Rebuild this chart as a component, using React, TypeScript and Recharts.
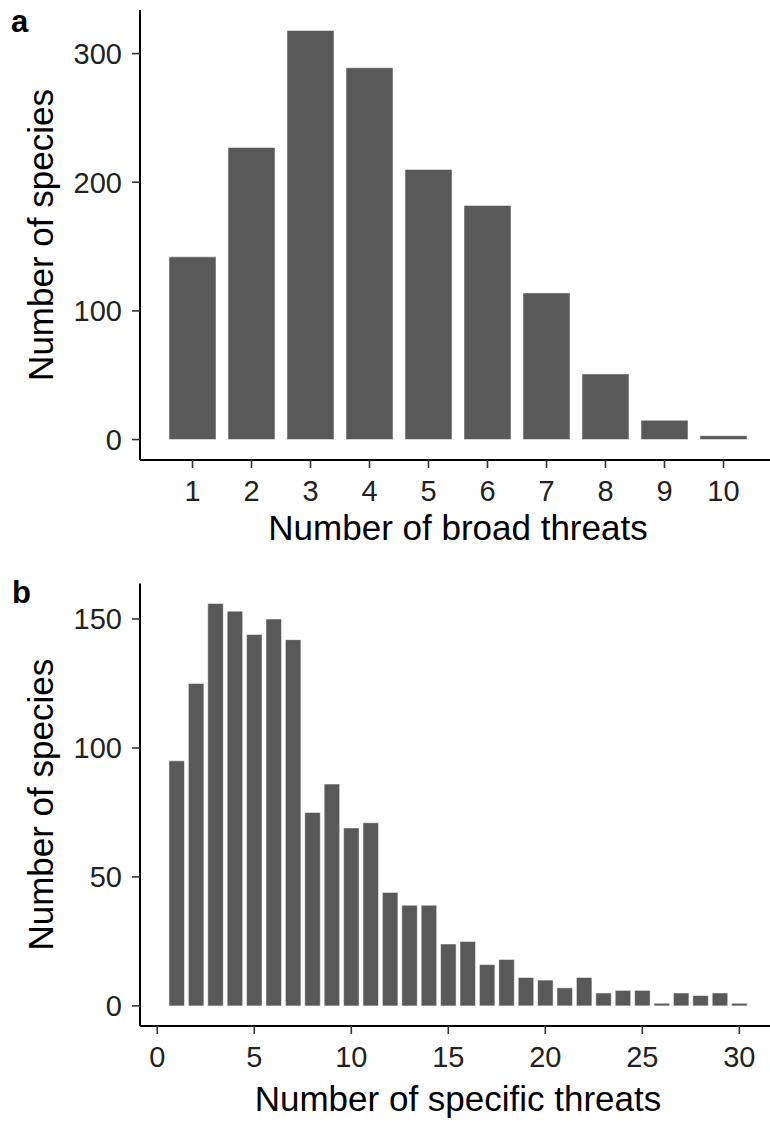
import { BarChart, Bar, XAxis, YAxis } from 'recharts';

const broadThreats = [1, 2, 3, 4, 5, 6, 7, 8, 9, 10];
const broadSpecies = [142, 227, 318, 289, 210, 182, 114, 51, 15, 3];
const broadXTicks = [1, 2, 3, 4, 5, 6, 7, 8, 9, 10];
const broadYTicks = [0, 100, 200, 300];

const specificThreats = [
  1, 2, 3, 4, 5, 6, 7, 8, 9, 10, 11, 12, 13, 14, 15,
  16, 17, 18, 19, 20, 21, 22, 23, 24, 25, 26, 27, 28, 29, 30,
];
const specificSpecies = [
  95, 125, 156, 153, 144, 150, 142, 75, 86, 69, 71, 44, 39, 39, 24,
  25, 16, 18, 11, 10, 7, 11, 5, 6, 6, 1, 5, 4, 5, 1,
];
const specificXTicks = [0, 5, 10, 15, 20, 25, 30];
const specificYTicks = [0, 50, 100, 150];

const broadData = broadThreats.map((x, i) => ({ x, n: broadSpecies[i] }));
const specificData = specificThreats.map((x, i) => ({ x, n: specificSpecies[i] }));

const FONT = '"Liberation Sans", Arial, Helvetica, sans-serif';
const BAR_FILL = '#595959';
const tickStyle = { fill: '#222', fontSize: 29, fontFamily: FONT };
const titleStyle = { fill: '#000', fontSize: 35, fontFamily: FONT };

function Panel({
  data,
  xDomain,
  yDomain,
  xTicks,
  yTicks,
  xTitle,
  height,
  marginTop,
  xAxisHeight,
  titleOffset,
  barSize,
}: {
  data: { x: number; n: number }[];
  xDomain: [number, number];
  yDomain: [number, number];
  xTicks: number[];
  yTicks: number[];
  xTitle: string;
  height: number;
  marginTop: number;
  xAxisHeight: number;
  titleOffset: number;
  barSize: number;
}) {
  return (
    <BarChart
      width={776}
      height={height}
      data={data}
      margin={{ top: marginTop, right: 0, bottom: 0, left: 0 }}
    >
      <XAxis
        dataKey="x"
        type="number"
        domain={xDomain}
        ticks={xTicks}
        interval={0}
        allowDataOverflow
        height={xAxisHeight}
        tickSize={8}
        tickMargin={12}
        axisLine={{ stroke: '#000', strokeWidth: 2 }}
        tickLine={{ stroke: '#333', strokeWidth: 1.6 }}
        tick={tickStyle}
        label={{ value: xTitle, position: 'insideBottom', offset: titleOffset, ...titleStyle }}
      />
      <YAxis
        type="number"
        domain={yDomain}
        ticks={yTicks}
        interval={0}
        allowDataOverflow
        width={140}
        tickSize={8}
        tickMargin={10}
        axisLine={{ stroke: '#000', strokeWidth: 2 }}
        tickLine={{ stroke: '#333', strokeWidth: 1.6 }}
        tick={tickStyle}
        label={{ value: 'Number of species', angle: -90, position: 'center', dx: -29, ...titleStyle }}
      />
      <Bar dataKey="n" fill={BAR_FILL} stroke="#fff" strokeWidth={0.5} barSize={barSize} isAnimationActive={false} />
    </BarChart>
  );
}

export default function App() {
  return (
    <div
      style={{
        position: 'absolute',
        left: 0,
        top: 0,
        width: 770,
        height: 1122,
        overflow: 'hidden',
        background: '#fff',
      }}
    >
      <div style={{ position: 'absolute', left: 0, top: 0 }}>
        <Panel
          data={broadData}
          xDomain={[0.11, 10.89]}
          yDomain={[-15.9, 333.9]}
          xTicks={broadXTicks}
          yTicks={broadYTicks}
          xTitle="Number of broad threats"
          height={565}
          marginTop={10}
          xAxisHeight={105}
          titleOffset={25}
          barSize={47}
        />
      </div>
      <div style={{ position: 'absolute', left: 0, top: 570 }}>
        <Panel
          data={specificData}
          xDomain={[-0.89, 31.89]}
          yDomain={[-7.8, 163.8]}
          xTicks={specificXTicks}
          yTicks={specificYTicks}
          xTitle="Number of specific threats"
          height={552}
          marginTop={13.4}
          xAxisHeight={96}
          titleOffset={11}
          barSize={15.5}
        />
      </div>
      <svg width={770} height={1122} style={{ position: 'absolute', left: 0, top: 0, pointerEvents: 'none' }}>
        <text x={11} y={32} fontFamily={FONT} fontWeight="bold" fontSize={31} fill="#000">a</text>
        <text x={12} y={603} fontFamily={FONT} fontWeight="bold" fontSize={31} fill="#000">b</text>
      </svg>
    </div>
  );
}
